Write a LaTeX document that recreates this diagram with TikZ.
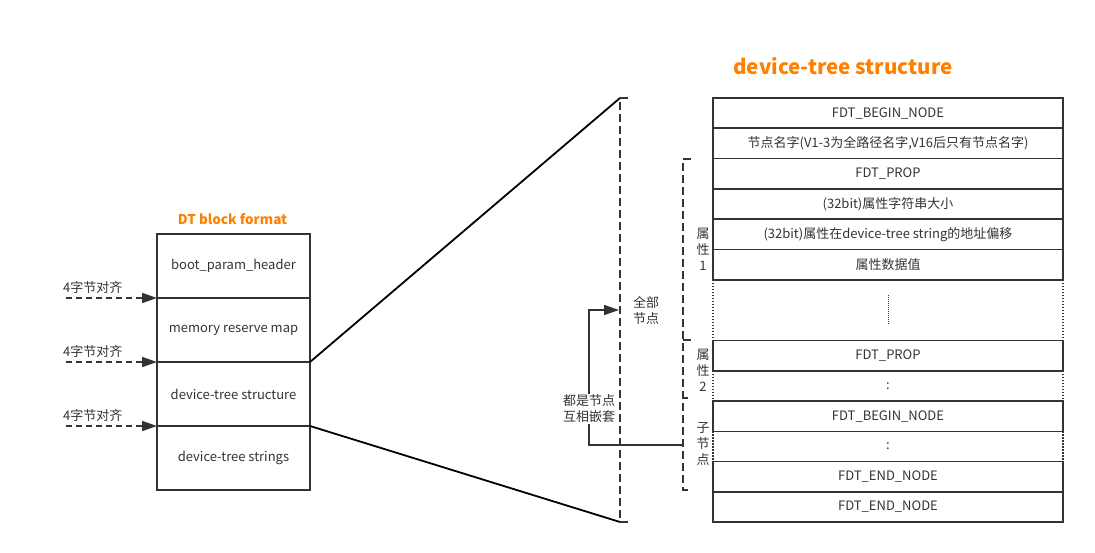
\documentclass[tikz,border=0pt]{standalone}
\usepackage{fontspec}
\setmainfont{Noto Sans CJK SC}
\usepackage{xcolor}
\usepackage{tikz}
\usetikzlibrary{arrows.meta, positioning, calc}
\definecolor{txtgray}{HTML}{333333}
\definecolor{titleorange}{HTML}{FF8000}
\tikzstyle{block} = [rectangle, minimum width=153pt, minimum height=64pt, outer sep=0pt, text centered, draw=black!80, line width=1.6pt, text=txtgray, font=\fontsize{13}{15}\selectfont]
\tikzstyle{row} = [rectangle, minimum width=350pt, minimum height=30.3pt, outer sep=0pt, text centered, draw=black!80, line width=1.6pt, text=txtgray, font=\fontsize{13}{15}\selectfont]
\tikzstyle{gaprow} = [row, draw=none]
\tikzstyle{dotside} = [black!80, line width=1.2pt, dash pattern=on 1.5pt off 1.5pt]
\tikzstyle{note} = [text=txtgray, font=\fontsize{13}{16}\selectfont, align=center, inner sep=1pt]
\tikzstyle{heading} = [text=titleorange]
\tikzstyle{arrow} = [line width=1.6pt, draw=black!80, -{Triangle[length=15pt,width=10pt]}]
\tikzstyle{alignarrow} = [arrow, dash pattern=on 6pt off 4pt]
\tikzstyle{bracket} = [line width=1.6pt, draw=black!80, dash pattern=on 8pt off 4pt]

\begin{document}
\begin{tikzpicture}[x=1pt, y=-1pt]
    \useasboundingbox (0,0) rectangle (1095,553);

    % DT block format
    \node (bph) [block, anchor=north west] at (157,234) {boot\_param\_header};
    \node (mrm) [block, below=0pt of bph] {memory reserve map};
    \node (dts) [block, below=0pt of mrm] {device-tree structure};
    \node (dtstr) [block, below=0pt of dts] {device-tree strings};
    \node (blktitle) [heading, font=\bfseries\fontsize{13.5}{15}\selectfont] at ($(bph.north)+(-1,-15)$) {DT block format};

    \foreach \blk/\nm in {mrm/a, dts/b, dtstr/c} {
        \coordinate (tail\nm) at ($(\blk.north west)+(-91,0)$);
        \draw [alignarrow] (tail\nm) -- (\blk.north west);
        \node [note, anchor=south west] at ($(tail\nm)+(-4,-3)$) {4字节对齐};
    }

    % device-tree structure
    \node (begin) [row, anchor=north west] at (713,98) {FDT\_BEGIN\_NODE};
    \node (name) [row, below=0pt of begin] {节点名字(V1-3为全路径名字,V16后只有节点名字)};
    \node (prop) [row, below=0pt of name] {FDT\_PROP};
    \node (len) [row, below=0pt of prop] {(32bit)属性字符串大小};
    \node (off) [row, below=0pt of len] {(32bit)属性在device-tree string的地址偏移};
    \node (val) [row, below=0pt of off] {属性数据值};
    \node (more) [gaprow, minimum height=60.6pt, below=0pt of val] {};
    \node (prop2) [row, below=0pt of more] {FDT\_PROP};
    \node (dots2) [gaprow, below=0pt of prop2] {:};
    \node (child) [row, below=0pt of dots2] {FDT\_BEGIN\_NODE};
    \node (dots3) [gaprow, below=0pt of child] {:};
    \node (cend) [row, below=0pt of dots3] {FDT\_END\_NODE};
    \node (end) [row, below=0pt of cend] {FDT\_END\_NODE};
    \node (dsttitle) [heading, font=\bfseries\fontsize{20.5}{24}\selectfont] at ($(begin.north)+(-45,-32)$) {device-tree structure};

    \foreach \gap in {more, dots2, dots3} {
        \draw [dotside] (\gap.north west) -- (\gap.south west);
        \draw [dotside] (\gap.north east) -- (\gap.south east);
    }
    \draw [black!80, line width=1pt, dash pattern=on 1pt off 1pt] ($(more.center)+(0,-15)$) -- ($(more.center)+(0,14)$);

    % zoom lines
    \coordinate (ztop) at (620,98);
    \coordinate (zbot) at (620,522);
    \draw [line width=1.8pt, black] (dts.north east) -- (ztop);
    \draw [line width=1.8pt, black] (dts.south east) -- (zbot);
    \draw [bracket] (628,98) -- (ztop) -- (zbot) -- (628,522);
    \node (allnode) [note] at (646,310) {全部\\节点};

    % brackets
    \draw [bracket] (691,159) -- (683,159) -- (683,490) -- (691,490);
    \draw [line width=1.6pt, black!80] (683,340) -- (691,340);
    \draw [line width=1.6pt, black!80] (683,398) -- (688,398);
    \node (attr1) [note] at (703,249) {属\\性\\1};
    \node (attr2) [note] at (703,370) {属\\性\\2};
    \node (sub) [note] at (703,444) {子\\节\\点};

    % nesting
    \coordinate (nest) at (683,445);
    \coordinate (alltip) at (619,310);
    \draw [arrow] (nest) -- ++(-94,0) |- (alltip);
    \node (nestlbl) [note, fill=white] at (589,409) {都是节点\\互相嵌套};
\end{tikzpicture}
\end{document}
